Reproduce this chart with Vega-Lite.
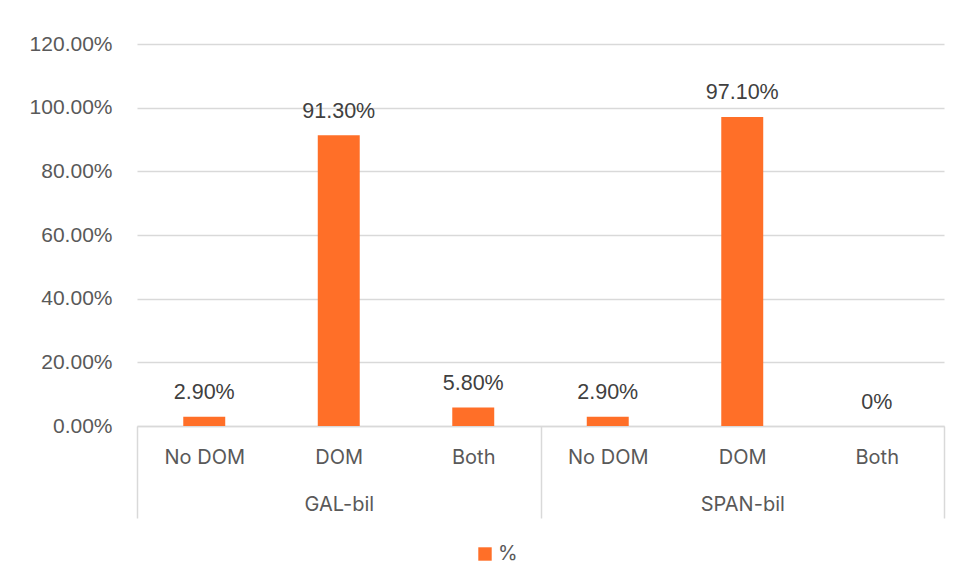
{
  "$schema": "https://vega.github.io/schema/vega-lite/v6.json",
  "autosize": "none",
  "padding": {"left": 137, "top": 44, "right": 17, "bottom": 160},
  "width": 807,
  "height": 382,
  "background": "white",
  "config": {
    "view": {"stroke": null},
    "axis": {"labelColor": "#595959", "labelFontSize": 20}
  },
  "data": {
    "values": [
      {"group": "GAL-bil", "cat": "No DOM", "key": "GAL-bil|No DOM", "value": 0.029, "series": "%"},
      {"group": "GAL-bil", "cat": "DOM", "key": "GAL-bil|DOM", "value": 0.913, "series": "%"},
      {"group": "GAL-bil", "cat": "Both", "key": "GAL-bil|Both", "value": 0.058, "series": "%"},
      {"group": "SPAN-bil", "cat": "No DOM", "key": "SPAN-bil|No DOM", "value": 0.029, "series": "%"},
      {"group": "SPAN-bil", "cat": "DOM", "key": "SPAN-bil|DOM", "value": 0.971, "series": "%"},
      {"group": "SPAN-bil", "cat": "Both", "key": "SPAN-bil|Both", "value": 0, "series": "%"}
    ]
  },
  "layer": [
    {
      "mark": {"type": "bar"},
      "encoding": {
        "x": {
          "field": "group",
          "type": "nominal",
          "sort": ["GAL-bil", "SPAN-bil"],
          "scale": {"paddingInner": 0, "paddingOuter": 0},
          "axis": {
            "orient": "bottom",
            "title": null,
            "domain": false,
            "ticks": true,
            "tickBand": "extent",
            "tickSize": 92,
            "tickColor": "#d9d9d9",
            "tickWidth": 1.5,
            "labelAngle": 0,
            "labelFont": "Inter",
            "labelBaseline": "alphabetic",
            "labelPadding": -8
          }
        },
        "xOffset": {
          "field": "cat",
          "type": "nominal",
          "sort": ["No DOM", "DOM", "Both"],
          "scale": {"paddingInner": 0.688, "paddingOuter": 0.344}
        },
        "y": {
          "field": "value",
          "type": "quantitative",
          "scale": {"domain": [0, 1.2], "nice": false},
          "axis": {
            "title": null,
            "values": [0, 0.2, 0.4, 0.6, 0.8, 1.0, 1.2],
            "format": ".2%",
            "domain": false,
            "ticks": false,
            "labelPadding": 25,
            "labelFont": "Liberation Sans",
            "labelFontSize": 21,
            "gridColor": "#d9d9d9",
            "gridWidth": 1.3
          }
        },
        "color": {
          "field": "series",
          "type": "nominal",
          "scale": {"range": ["#ff6f28"]},
          "legend": {
            "title": null,
            "orient": "none",
            "legendX": 338,
            "legendY": 500,
            "symbolType": "square",
            "symbolSize": 180,
            "symbolStrokeWidth": 0,
            "labelFontSize": 20,
            "labelFont": "Inter",
            "labelColor": "#595959",
            "labelOffset": 3
          }
        }
      }
    },
    {
      "mark": {
        "type": "text",
        "baseline": "alphabetic",
        "dy": -17.5,
        "font": "Liberation Sans",
        "fontSize": 21.5,
        "color": "#404040"
      },
      "encoding": {
        "x": {
          "field": "key",
          "type": "nominal",
          "sort": null,
          "scale": {"paddingInner": 0, "paddingOuter": 0},
          "axis": {
            "orient": "bottom",
            "title": null,
            "ticks": false,
            "domainColor": "#d9d9d9",
            "domainWidth": 1.5,
            "labelAngle": 0,
            "labelFont": "Inter",
            "labelBaseline": "alphabetic",
            "labelPadding": 37,
            "labelExpr": "split(datum.value, '|')[1]"
          }
        },
        "y": {"field": "value", "type": "quantitative"},
        "text": {
          "condition": {"test": "datum.value == 0", "value": "0%"},
          "field": "value",
          "type": "quantitative",
          "format": ".2%"
        }
      }
    }
  ],
  "resolve": {"scale": {"x": "independent"}, "axis": {"x": "independent"}}
}
